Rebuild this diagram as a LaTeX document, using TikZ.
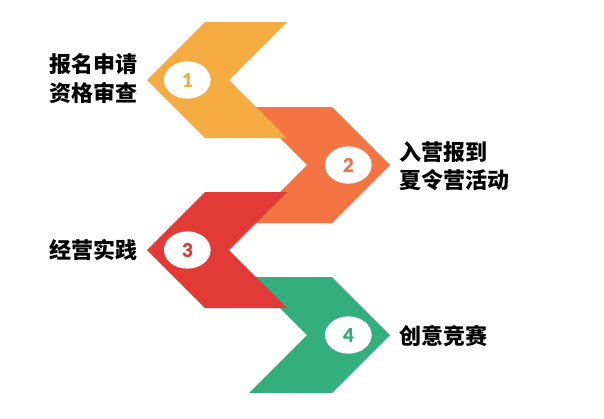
\documentclass[tikz,border=0pt]{standalone}
\usepackage{fontspec}
\newfontfamily\cjk{Noto Sans CJK SC}
\newfontfamily\numfont{Carlito}[UprightFont={* Bold},UprightFeatures={FakeBold=1.2}]
\usetikzlibrary{shapes,shapes.geometric}
\definecolor{stepA}{HTML}{F4AB42}
\definecolor{stepB}{HTML}{F37543}
\definecolor{stepC}{HTML}{E23A37}
\definecolor{stepD}{HTML}{35AE7F}

\begin{document}
\begin{tikzpicture}
	[x=1pt,y=-1pt,every node/.style={inner sep=0pt},
	badge/.style={shape=ellipse,fill=white,minimum width=46.7pt,
		minimum height=37.3pt,font=\numfont\fontsize{21}{21}\selectfont},
	steptext/.style={anchor=west,align=left,
		font=\cjk\bfseries\fontsize{22}{28.5}\selectfont}]
	\useasboundingbox (0,0) rectangle (604,418);
	% right chevrons first, left ones lie on top
	\foreach \c/\col in {165/stepB,335/stepD}
	{
		\fill[\col] (249,\c-58) -- (332,\c-58) -- (390,\c) -- (332,\c+58)
		-- (249,\c+58) -- (307,\c) -- cycle;
	}
	\foreach \c/\col in {80/stepA,250/stepC}
	{
		\fill[\col] (205,\c-58) -- (287,\c-58) -- (229,\c) -- (287,\c+58)
		-- (205,\c+58) -- (147,\c) -- cycle;
	}
	
	\node[badge,text=stepA] (n1) at (187.3,80) {1};
	\node[badge,text=stepB] (n2) at (348.3,165) {2};
	\node[badge,text=stepC] (n3) at (187.3,250) {3};
	\node[badge,text=stepD] (n4) at (348.3,335) {4};
	
	\node[steptext] (t1) at (49,78.5) {报名申请\\资格审查};
	\node[steptext] (t2) at (399,166) {入营报到\\夏令营活动};
	\node[steptext] (t3) at (49,250) {经营实践};
	\node[steptext] (t4) at (399,336) {创意竞赛};
\end{tikzpicture}
\end{document}
